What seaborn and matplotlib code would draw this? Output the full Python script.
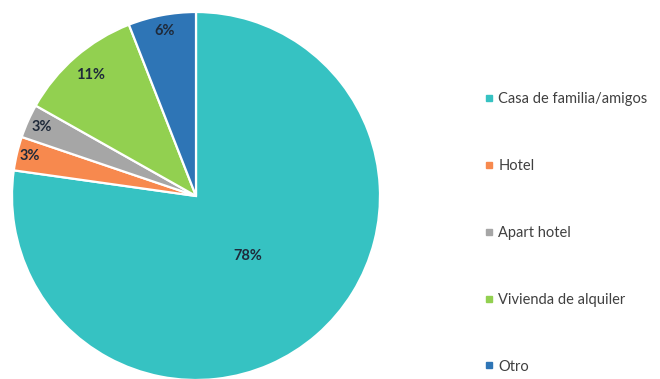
import numpy as np
import matplotlib
matplotlib.use("Agg")
import matplotlib.pyplot as plt
import seaborn as sns
from matplotlib.lines import Line2D

sns.set_theme(style="white")
plt.rcParams["font.family"] = ["Lato", "DejaVu Sans"]

categories = ["Casa de familia/amigos", "Hotel", "Apart hotel", "Vivienda de alquiler", "Otro"]
shares = [78, 3, 3, 11, 6]
colors = ["#36C2C2", "#F7894E", "#A6A6A6", "#92D050", "#2E75B6"]
# radial placement of each percentage label (fraction of radius)
label_radius = [0.43, 0.93, 0.92, 0.87, 0.91]

fig = plt.figure(figsize=(6.6, 3.79), dpi=100)
r_px = 184
cx, cy = 196, 196
ax = fig.add_axes([(cx - r_px) / 660, (379 - cy - r_px) / 379, 2 * r_px / 660, 2 * r_px / 379])

wedges, _ = ax.pie(
    shares,
    colors=colors,
    startangle=90,
    counterclock=False,
    wedgeprops=dict(edgecolor="white", linewidth=1.6),
)
ax.set_xlim(-1, 1)
ax.set_ylim(-1, 1)
ax.set_aspect("equal")
ax.axis("off")

for w, val, d in zip(wedges, shares, label_radius):
    mid = np.deg2rad((w.theta1 + w.theta2) / 2)
    ax.text(d * np.cos(mid), d * np.sin(mid), f"{val}%",
            ha="center", va="center", fontsize=10.5, fontweight="bold",
            color="#1F2A3A")

handles = [Line2D([0], [0], marker="s", linestyle="none", markersize=4,
                  markerfacecolor=c, markeredgecolor=c) for c in colors]
fig.legend(handles, categories, loc="center left",
           bbox_to_anchor=(485 / 660, 1 - 233 / 379),
           frameon=False, fontsize=10.5, labelcolor="#404040",
           handlelength=0.5, handletextpad=0.4, labelspacing=3.62,
           borderpad=0, borderaxespad=0)

fig.savefig("out.png", dpi=100)
